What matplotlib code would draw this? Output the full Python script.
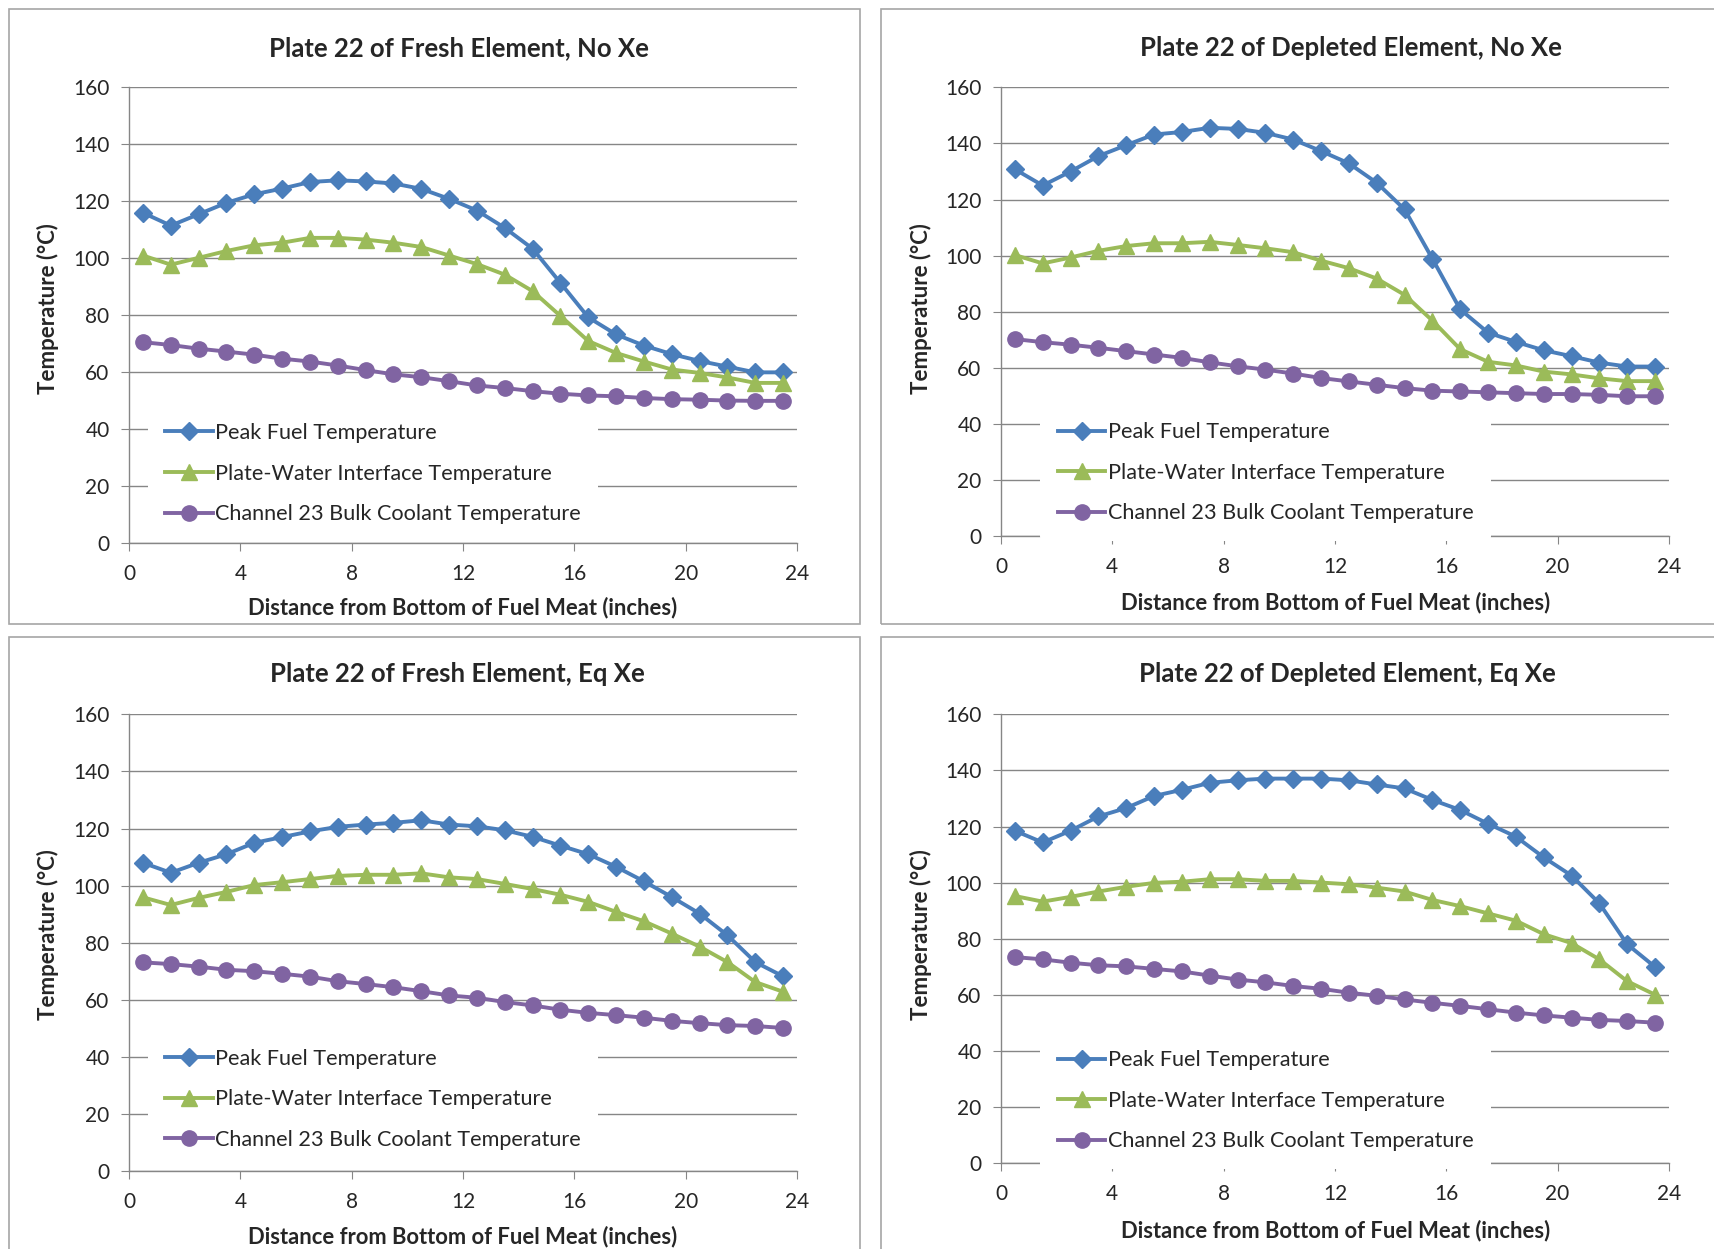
import matplotlib.pyplot as plt
from matplotlib.patches import Rectangle

plt.rcParams['font.family'] = ['Lato', 'DejaVu Sans']

# Axial position (inches) of each node
pos = [0.5, 1.5, 2.5, 3.5, 4.5, 5.5, 6.5, 7.5, 8.5, 9.5, 10.5, 11.5,
       12.5, 13.5, 14.5, 15.5, 16.5, 17.5, 18.5, 19.5, 20.5, 21.5, 22.5, 23.5]

# Fresh element, no Xe
fresh_noxe_peak = [116, 111.5, 115.5, 119.5, 122.5, 124.5, 126.8, 127.4, 127, 126.3, 124.4, 120.9,
                   116.8, 110.7, 103.4, 91.4, 79.3, 73.3, 69.4, 66.4, 64, 62, 60, 60]
fresh_noxe_iface = [101, 97.8, 100.2, 102.6, 104.6, 105.5, 107.2, 107.2, 106.6, 105.5, 104, 101,
                    98, 94.3, 88.5, 79.8, 71, 66.8, 63.8, 61, 59.8, 58.2, 56.3, 56.3]
fresh_noxe_cool = [70.6, 69.6, 68.3, 67.3, 66.2, 64.8, 63.8, 62.4, 60.8, 59.3, 58.3, 56.9,
                   55.4, 54.5, 53.4, 52.5, 51.9, 51.6, 51, 50.6, 50.4, 50.1, 50, 50]

# Depleted element, no Xe
depl_noxe_peak = [130.8, 125, 130, 135.5, 139.4, 143.2, 144.1, 145.6, 145.2, 143.8, 141.4, 137.3,
                  132.9, 126, 116.5, 98.9, 80.8, 72.5, 69.2, 66.2, 64.1, 61.8, 60.4, 60.4]
depl_noxe_iface = [100.2, 97.2, 99.3, 101.7, 103.4, 104.4, 104.4, 104.9, 103.8, 102.6, 101.2, 98.2,
                   95.5, 91.8, 86, 76.8, 66.6, 62.1, 60.8, 58.6, 57.6, 56.2, 55.2, 55.2]
depl_noxe_cool = [70.2, 69.1, 68.2, 67.1, 65.9, 64.7, 63.5, 61.9, 60.5, 59.3, 57.9, 56.3,
                  55.1, 53.9, 52.7, 51.8, 51.5, 51.2, 50.9, 50.6, 50.6, 50.3, 49.8, 49.8]

# Fresh element, equilibrium Xe
fresh_eqxe_peak = [108, 104.5, 108, 111, 115, 117, 119, 120.6, 121.4, 122, 122.9, 121.4,
                   120.8, 119.4, 117.1, 114, 111, 106.6, 101.5, 96, 90.2, 82.6, 73.2, 68.2]
fresh_eqxe_iface = [95.9, 93.2, 95.7, 97.8, 100.2, 101.2, 102.3, 103.4, 103.8, 103.8, 104.3, 102.9,
                    102.3, 100.6, 98.8, 96.8, 94.3, 90.8, 87.5, 83.2, 78.6, 73.2, 66.2, 62.8]
fresh_eqxe_cool = [73.1, 72.5, 71.6, 70.5, 70, 69.1, 68.1, 66.5, 65.5, 64.4, 63, 61.5,
                   60.7, 59.2, 58, 56.5, 55.4, 54.6, 53.7, 52.6, 51.8, 51.1, 50.8, 50.1]

# Depleted element, equilibrium Xe
depl_eqxe_peak = [118.5, 114.3, 118.5, 123.6, 126.6, 130.9, 133.1, 135.6, 136.5, 137.1, 137.1, 137.1,
                  136.5, 135, 133.6, 129.5, 125.9, 121, 116.4, 109, 102.5, 92.6, 78, 69.9]
depl_eqxe_iface = [95.2, 93.2, 94.9, 96.8, 98.5, 99.9, 100.3, 101.2, 101.2, 100.6, 100.6, 100,
                   99.4, 98.2, 96.8, 93.8, 91.6, 89, 86.4, 81.6, 78.4, 72.6, 64.8, 60]
depl_eqxe_cool = [73.4, 72.6, 71.4, 70.5, 70.1, 69.2, 68.3, 66.8, 65.4, 64.4, 63.1, 62.1,
                  60.7, 59.6, 58.3, 57.1, 56, 54.8, 53.6, 52.6, 51.8, 51, 50.6, 50]

series_names = ['Peak Fuel Temperature', 'Plate-Water Interface Temperature',
                'Channel 23 Bulk Coolant Temperature']
x_ticks = [0, 4, 8, 12, 16, 20, 24]
y_ticks = [0, 20, 40, 60, 80, 100, 120, 140, 160]

BLUE = '#4A7EBB'
GREEN = '#9BBB59'
PURPLE = '#8064A2'
GRID = '#868686'
TXT = '#262626'

fig = plt.figure(figsize=(17.14, 12.49), dpi=100)


def draw_panel(rect, box, peak, iface, cool, title, tx, ty, xlx, xly, ylx, yly, legx, legy):
    # light gray chart-area border
    fig.add_artist(Rectangle((box[0], box[1]), box[2], box[3], transform=fig.transFigure,
                             fill=False, edgecolor='#A6A6A6', lw=1.2))
    ax = fig.add_axes(rect)
    ax.plot(pos, peak, color=BLUE, lw=2.8, marker='D', ms=9, label=series_names[0])
    ax.plot(pos, iface, color=GREEN, lw=2.8, marker='^', ms=11, label=series_names[1])
    ax.plot(pos, cool, color=PURPLE, lw=2.8, marker='o', ms=11, label=series_names[2])
    ax.set_xlim(0, 24)
    ax.set_ylim(0, 160)
    ax.set_xticks(x_ticks)
    ax.set_yticks(y_ticks)
    ax.yaxis.grid(True, color=GRID, lw=1)
    ax.set_axisbelow(True)
    for s in ['top', 'right']:
        ax.spines[s].set_visible(False)
    for s in ['left', 'bottom']:
        ax.spines[s].set_color(GRID)
        ax.spines[s].set_linewidth(1)
    ax.tick_params(axis='both', direction='out', length=6, color=GRID,
                   labelsize=15, labelcolor=TXT)
    ax.tick_params(axis='x', pad=9)
    ax.tick_params(axis='y', pad=8)
    leg = ax.legend(loc='lower left', bbox_to_anchor=(legx, legy), fontsize=15.6,
                    frameon=True, facecolor='white', edgecolor='none', framealpha=1,
                    handlelength=2.2, handletextpad=0.1, labelspacing=0.95,
                    borderpad=0.8, borderaxespad=0)
    for t in leg.get_texts():
        t.set_color(TXT)
    fig.text(tx, ty, title, ha='center', va='center', fontsize=18.5, fontweight='bold', color=TXT)
    fig.text(xlx, xly, 'Distance from Bottom of Fuel Meat (inches)', ha='center', va='center',
             fontsize=15.8, fontweight='bold', color=TXT)
    fig.text(ylx, yly, 'Temperature (°C)', ha='center', va='center', rotation=90,
             fontsize=16, fontweight='bold', color=TXT)
    return ax


draw_panel([0.0753, 0.565, 0.3897, 0.365], [0.0053, 0.5004, 0.4965, 0.4924],
           fresh_noxe_peak, fresh_noxe_iface, fresh_noxe_cool,
           'Plate 22 of Fresh Element, No Xe', 0.268, 0.9616, 0.270, 0.5133, 0.028, 0.7526,
           0.028, 0.004)
draw_panel([0.584, 0.571, 0.3897, 0.359], [0.514, 0.5004, 0.49, 0.4924],
           depl_noxe_peak, depl_noxe_iface, depl_noxe_cool,
           'Plate 22 of Depleted Element, No Xe', 0.788, 0.9616, 0.779, 0.518, 0.5375, 0.7526,
           0.059, -0.011)
draw_panel([0.0753, 0.0625, 0.3897, 0.3655], [0.0053, -0.01, 0.4965, 0.4999],
           fresh_eqxe_peak, fresh_eqxe_iface, fresh_eqxe_cool,
           'Plate 22 of Fresh Element, Eq Xe', 0.2667, 0.4603, 0.270, 0.0104, 0.028, 0.2516,
           0.028, 0.008)
draw_panel([0.584, 0.069, 0.3897, 0.359], [0.514, -0.01, 0.49, 0.4999],
           depl_eqxe_peak, depl_eqxe_iface, depl_eqxe_cool,
           'Plate 22 of Depleted Element, Eq Xe', 0.786, 0.4603, 0.779, 0.0152, 0.5375, 0.2516,
           0.059, -0.013)

fig.savefig('out.png', dpi=100)
